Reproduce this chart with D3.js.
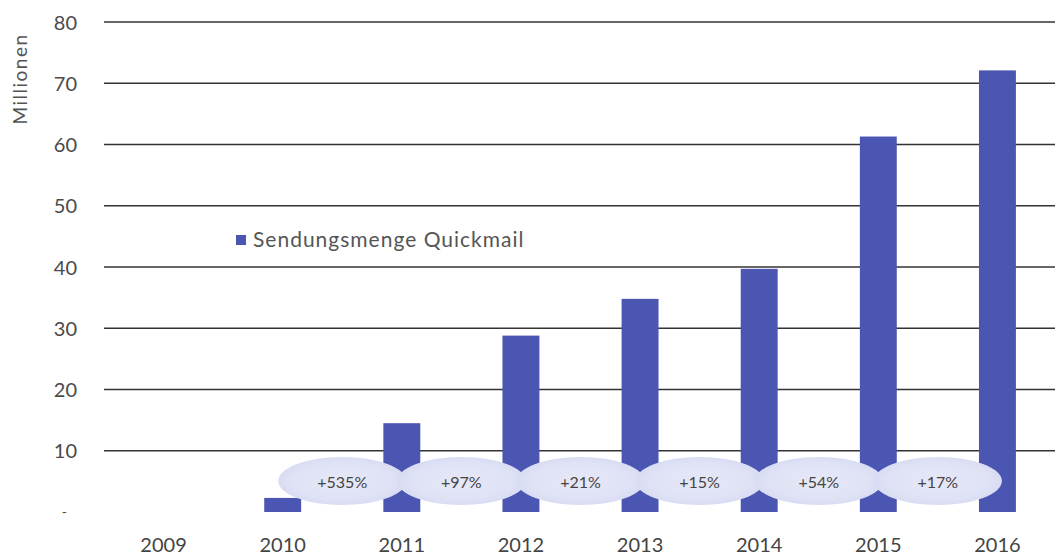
<!DOCTYPE html>
<html><head><meta charset="utf-8">
<script src="https://cdn.jsdelivr.net/npm/d3@7"></script>
<style>body{margin:0;background:#fff;}svg{display:block;}</style>
</head><body>
<svg id="c" width="1055" height="555"></svg>
<script>
const years = ["2009","2010","2011","2012","2013","2014","2015","2016"];
const values = [0, 2.3, 14.5, 28.8, 34.8, 39.7, 61.3, 72.1];
const growthLabels = ["+535%","+97%","+21%","+15%","+54%","+17%"];
const yTicks = [0,10,20,30,40,50,60,70,80];
const seriesName = "Sendungsmenge Quickmail";
const yTitle = "Millionen";

const svg = d3.select("#c");
const font = "Lato, 'Open Sans', sans-serif";
const barColor = "#4b56b2";

const x = d3.scaleBand().domain(years).range([104, 1057]).paddingInner(0.69).paddingOuter(0.345);
const y = d3.scaleLinear().domain([0, 80]).range([512, 22]);

// gridlines
svg.append("g").selectAll("line").data(yTicks.filter(d => d > 0)).join("line")
  .attr("x1", 104).attr("x2", 1055)
  .attr("y1", d => y(d)).attr("y2", d => y(d))
  .attr("stroke", "#333").attr("stroke-width", 1.7);

// y axis labels
const yAxis = d3.axisLeft(y).tickValues(yTicks).tickSize(0).tickPadding(0)
  .tickFormat(d => d === 0 ? "-" : d);
const ya = svg.append("g").attr("transform", "translate(77,0)").call(yAxis);
ya.select(".domain").remove();
ya.selectAll("text").attr("font-family", font).attr("font-size", 20).attr("fill", "#4a4a4a")
  .attr("dy", "0.35em");
ya.selectAll(".tick").filter(d => d === 0).select("text").attr("transform", "translate(-10,0)").attr("font-size", 14);

// y title
svg.append("text").attr("transform", "translate(27,79) rotate(-90)")
  .attr("text-anchor", "middle").attr("font-family", font).attr("font-size", 19)
  .attr("letter-spacing", 1.5).attr("fill", "#555").text(yTitle);

// bars
svg.append("g").selectAll("rect").data(years.map((d, i) => ({year: d, v: values[i]})).filter(d => d.v > 0)).join("rect")
  .attr("x", d => x(d.year)).attr("width", x.bandwidth())
  .attr("y", d => y(d.v)).attr("height", d => y(0) - y(d.v))
  .attr("fill", barColor);

// growth ellipses
const defs = svg.append("defs");
const grad = defs.append("radialGradient").attr("id", "eg");
grad.append("stop").attr("offset", "0%").attr("stop-color", "#e6e8f7");
grad.append("stop").attr("offset", "80%").attr("stop-color", "#dfe2f5");
grad.append("stop").attr("offset", "100%").attr("stop-color", "#d8dcf3");
const cxOf = i => (x(years[i + 1]) + x(years[i + 2])) / 2 + x.bandwidth() / 2;
const eg = svg.append("g").selectAll("g").data(growthLabels).join("g");
eg.append("ellipse")
  .attr("cx", (d, i) => cxOf(i)).attr("cy", 481)
  .attr("rx", 64).attr("ry", 24)
  .attr("fill", "url(#eg)");
eg.append("text")
  .attr("x", (d, i) => cxOf(i)).attr("y", 482).attr("dy", "0.35em")
  .attr("text-anchor", "middle").attr("font-family", font).attr("font-size", 16)
  .attr("fill", "#444").text(d => d);

// x axis labels
const xAxis = d3.axisBottom(x).tickSize(0).tickPadding(0);
const xa = svg.append("g").attr("transform", "translate(0,545)").call(xAxis);
xa.select(".domain").remove();
xa.selectAll("text").attr("font-family", font).attr("font-size", 20).attr("fill", "#444")
  .attr("dy", "0.35em");

// legend
const lg = svg.append("g").attr("transform", "translate(236,240)");
lg.append("rect").attr("x", 0).attr("y", -5).attr("width", 10).attr("height", 10).attr("fill", barColor);
lg.append("text").attr("x", 17).attr("y", 0).attr("dy", "0.35em")
  .attr("font-family", font).attr("font-size", 21).attr("letter-spacing", 1)
  .attr("fill", "#555").text(seriesName);
</script>
</body></html>
